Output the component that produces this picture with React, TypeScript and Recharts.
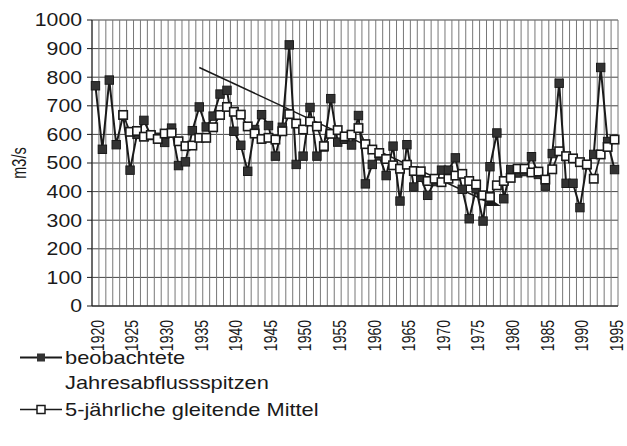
import { CartesianGrid, Legend, Line, LineChart, XAxis, YAxis } from 'recharts'

const years = [
  1920, 1921, 1922, 1923, 1924, 1925, 1926, 1927, 1928, 1929,
  1930, 1931, 1932, 1933, 1934, 1935, 1936, 1937, 1938, 1939,
  1940, 1941, 1942, 1943, 1944, 1945, 1946, 1947, 1948, 1949,
  1950, 1951, 1952, 1953, 1954, 1955, 1956, 1957, 1958, 1959,
  1960, 1961, 1962, 1963, 1964, 1965, 1966, 1967, 1968, 1969,
  1970, 1971, 1972, 1973, 1974, 1975, 1976, 1977, 1978, 1979,
  1980, 1981, 1982, 1983, 1984, 1985, 1986, 1987, 1988, 1989,
  1990, 1991, 1992, 1993, 1994, 1995,
]

// beobachtete Jahresabflussspitzen (m3/s)
const peaks = [
  770, 548, 790, 564, 668, 475, 600, 649, 596, 590,
  572, 622, 491, 504, 613, 696, 626, 664, 741, 754,
  611, 562, 471, 617, 669, 631, 524, 625, 913, 495,
  524, 694, 524, 556, 725, 573, 583, 563, 666, 427,
  495, 525, 456, 559, 367, 564, 416, 450, 387, 435,
  475, 475, 518, 408, 305, 410, 297, 487, 605, 375,
  477, 465, 470, 522, 460, 419, 533, 779, 429, 429,
  344, 494, 530, 834, 575, 477,
]

// 5-jährliche gleitende Mittel
const means = [
  null, null, null, null, 668, 609, 612, 592, 598, 584,
  603, 605, 576, 559, 561, 588, 588, 625, 668, 696,
  679, 669, 628, 603, 584, 588, 582, 611, 671, 638,
  617, 645, 628, 559, 602, 615, 593, 599, 622, 566,
  547, 535, 514, 492, 480, 494, 472, 471, 437, 445,
  433, 445, 456, 462, 437, 425, 387, 381, 422, 437,
  448, 480, 480, 467, 470, 442, 478, 541, 524, 516,
  503, 495, 445, 530, 556, 582,
]

const trendYears = [1935, 1977]
const trendValues = [834, 360]

const yTicks = [0, 100, 200, 300, 400, 500, 600, 700, 800, 900, 1000]

const data = years.map((year, i) => {
  const t = trendYears.indexOf(year)
  return { year, peak: peaks[i], mean: means[i], trend: t >= 0 ? trendValues[t] : null }
})

const FONT = '"Liberation Sans", Arial, Helvetica, sans-serif'
const INK = '#1a1a1a'
// the scan is squashed vertically, so the lettering reads wide
const STRETCH = 1.18
const LABEL_STRETCH = 1.35

function FilledDot(props: any) {
  const { cx, cy, index } = props
  if (cx == null || cy == null) return <g key={`p-${index}`} />
  return <rect key={`p-${index}`} x={cx - 4.2} y={cy - 4.2} width={8.4} height={8.4} fill="#333" stroke={INK} strokeWidth={1} />
}

function OpenDot(props: any) {
  const { cx, cy, index } = props
  if (cx == null || cy == null) return <g key={`m-${index}`} />
  return <rect key={`m-${index}`} x={cx - 4.2} y={cy - 4.2} width={8.4} height={8.4} fill="#fff" stroke={INK} strokeWidth={1.6} />
}

function TrendEnd(props: any) {
  const { cx, cy, index, payload } = props
  if (cx == null || cy == null || payload.year !== trendYears[trendYears.length - 1]) return <g key={`t-${index}`} />
  return <path key={`t-${index}`} d={`M${cx - 1},${cy - 5} L${cx + 11},${cy + 3} L${cx - 5},${cy + 3} Z`} fill={INK} />
}

function ValueTick({ x, y, payload }: any) {
  return (
    <text transform={`translate(${x} ${y}) scale(${STRETCH} 1)`} textAnchor="end" dominantBaseline="central" fontSize={18} fill={INK} fontFamily={FONT}>
      {payload.value}
    </text>
  )
}

function YearTick({ x, y, payload }: any) {
  return (
    <text transform={`translate(${x + 2} ${y}) scale(${LABEL_STRETCH} 1) rotate(-90)`} textAnchor="end" dominantBaseline="central" fontSize={14} fill={INK} fontFamily={FONT}>
      {payload.value}
    </text>
  )
}

function UnitLabel({ viewBox }: any) {
  const y = viewBox.y + viewBox.height / 2
  return (
    <text transform={`translate(19 ${y}) scale(${LABEL_STRETCH} 1) rotate(-90)`} textAnchor="middle" dominantBaseline="central" fontSize={14.5} fill={INK} fontFamily={FONT}>
      m3/s
    </text>
  )
}

function LegendBox() {
  const label = { display: 'inline-block', transform: `scaleX(${STRETCH})`, transformOrigin: 'left center', whiteSpace: 'nowrap' } as const
  return (
    <div style={{ fontFamily: FONT, fontSize: 18.5, color: INK, lineHeight: '25px' }}>
      <div style={{ display: 'flex', alignItems: 'flex-start', height: 50 }}>
        <svg width={47} height={25}>
          <line x1={2} x2={44} y1={12.5} y2={12.5} stroke={INK} strokeWidth={2} />
          <rect x={19} y={8.5} width={8} height={8} fill="#333" />
        </svg>
        <div style={label}>beobachtete<br />Jahresabflussspitzen</div>
      </div>
      <div style={{ display: 'flex', alignItems: 'flex-start', height: 25, marginTop: 2 }}>
        <svg width={47} height={25}>
          <line x1={2} x2={44} y1={12.5} y2={12.5} stroke={INK} strokeWidth={1.5} />
          <rect x={19} y={8.5} width={8} height={8} fill="#fff" stroke={INK} strokeWidth={1.5} />
        </svg>
        <div style={label}>5-jährliche gleitende Mittel</div>
      </div>
    </div>
  )
}

export default function App() {
  return (
    <div style={{ position: 'absolute', left: 0, top: 0, width: 627, height: 446, background: '#fff' }}>
      <LineChart width={627} height={446} data={data} margin={{ top: 20, right: 9, bottom: 80, left: 0 }}>
        <CartesianGrid stroke="#444" strokeWidth={1} vertical={false} />
        <CartesianGrid
          stroke="#777"
          strokeWidth={1}
          horizontal={false}
          verticalCoordinatesGenerator={({ offset }: any) =>
            Array.from({ length: years.length + 1 }, (_, i) => offset.left + (i * offset.width) / years.length)
          }
        />
        <XAxis
          dataKey="year"
          interval={4}
          padding={{ left: 3.46, right: 3.46 }}
          axisLine={{ stroke: INK }}
          tickLine={false}
          tickMargin={8}
          height={60}
          tick={<YearTick />}
        />
        <YAxis
          domain={[0, 1000]}
          ticks={yTicks}
          width={92}
          axisLine={{ stroke: INK }}
          tickLine={{ stroke: INK }}
          tickSize={5}
          tickMargin={5}
          tick={<ValueTick />}
          label={<UnitLabel />}
        />
        <Line dataKey="trend" connectNulls stroke={INK} strokeWidth={1.5} dot={<TrendEnd />} activeDot={false} isAnimationActive={false} />
        <Line dataKey="peak" stroke={INK} strokeWidth={2} dot={<FilledDot />} activeDot={false} isAnimationActive={false} />
        <Line dataKey="mean" stroke={INK} strokeWidth={1.6} dot={<OpenDot />} activeDot={false} isAnimationActive={false} />
        <Legend
          layout="vertical"
          align="center"
          verticalAlign="middle"
          wrapperStyle={{ left: 18, top: 345, width: 440 }}
          content={<LegendBox />}
        />
      </LineChart>
    </div>
  )
}
